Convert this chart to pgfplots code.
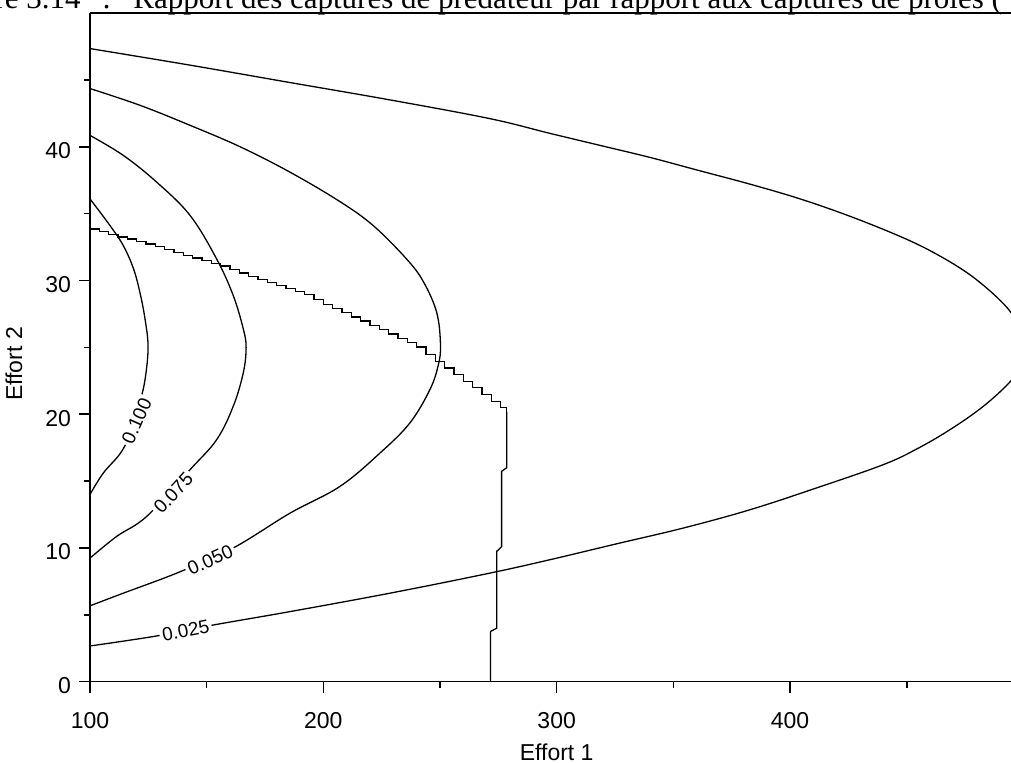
\documentclass[border=0pt]{standalone}
\usepackage{fontspec}
\setmainfont{Liberation Sans}
\newfontfamily\timesfont{Liberation Serif}
\usepackage{pgfplots}
\pgfplotsset{compat=1.18}

\begin{document}
\begin{tikzpicture}
\begin{axis}[
    scale only axis,
    width=460.5pt, height=334.35pt,
    xmin=100, xmax=494.7, ymin=0, ymax=50,
    axis x line*=bottom, axis y line*=left,
    axis line style={-, line width=0.8pt},
    xtick={100,200,300,400}, minor xtick={150,250,350,450},
    ytick={0,10,20,30,40}, minor ytick={5,15,25,35,45},
    tick align=outside, major tick length=5.5pt, minor tick length=3.2pt,
    tick style={line width=0.8pt, black},
    ticklabel style={font=\fontsize{11.5}{13}\selectfont},
    xticklabel style={yshift=-6.5pt},
    yticklabel style={yshift=-2pt, xshift=-0.5pt},
    /pgf/number format/assume math mode=true,
    xlabel={Effort 1},
    xlabel style={font=\fontsize{11.5}{13}\selectfont, at={(axis description cs:0.5067,0)}, anchor=base, yshift=-39.65pt},
    ylabel={Effort 2},
    ylabel style={font=\fontsize{11.5}{13}\selectfont, at={(axis description cs:-0.0738,0.475)}, anchor=base, rotate=0},
]

% contour 0.025
\addplot[smooth, tension=0.6, line width=0.65pt, mark=none] coordinates {
 (100,47.34) (142.9,46.1) (185.7,44.8) (228.6,43.5) (271.4,42.1) (297.1,41.0)
 (318.6,40.1) (340,39.2) (361.4,38.2) (382.9,37.2) (404.3,36.1) (425.7,34.8)
 (447.1,33.3) (461.4,32.1) (475.7,30.6) (487.1,29.0) (494.7,27.6) (498.5,26.3)
 (499.6,25) (498.5,23.7) (494.7,22.5) (482.9,20.6) (468.6,18.85) (454.3,17.4)
 (440,16.23) (411.4,14.49) (382.9,12.86) (354.3,11.49) (325.7,10.31) (297.1,9.12)
 (271.4,8.12) (228.6,6.62) (185.7,5.24) (152.9,4.24) (128.6,3.42) (100,2.67)
};
% contour 0.050
\addplot[smooth, tension=0.6, line width=0.65pt, mark=none] coordinates {
 (100,44.35) (121.4,43.1) (142.9,41.6) (164.3,40.0) (185.7,38.1) (207.1,35.9)
 (221.4,34.1) (235.7,31.6) (242.9,29.9) (248.6,27.6) (250.2,25.2) (249.3,23.7)
 (245.7,21.85) (237.1,19.35) (224.3,17.1) (207.1,14.6) (185.7,12.6) (161.4,10.0)
 (137.9,8.17) (114.3,6.62) (100,5.67)
};
% contour 0.075
\addplot[smooth, tension=0.6, line width=0.65pt, mark=none] coordinates {
 (100,40.85) (114.3,39.35) (128.6,37.35) (142.9,34.86) (154.3,31.6) (161.4,28.87)
 (165.7,26.37) (166.9,25.0) (165.7,23.1) (161.4,20.6) (154.3,18.1) (142.9,15.86)
 (124.3,12.36) (111.4,10.86) (100,9.24)
};
% contour 0.100
\addplot[smooth, tension=0.6, line width=0.65pt, mark=none] coordinates {
 (100,36.1) (108.6,34.1) (114.3,32.6) (118.6,30.9) (121.4,29.1) (123.6,27.1)
 (124.9,25.0) (123.6,22.6) (121.4,20.9) (118.6,19.1) (113.5,17.2) (105.7,15.6)
 (100,14.0)
};

% frontier (step line)
\addplot[const plot, line width=0.65pt, mark=none] coordinates {
 (100,33.86) (104,33.65) (108,33.43) (112,33.26) (116,33.09) (120,32.92)
 (124,32.73) (128,32.52) (132,32.30) (136,32.09) (140,31.88) (144,31.68)
 (148,31.48) (152,31.28) (156,31.08) (160,30.83) (164,30.57) (168,30.31)
 (172,30.07) (176,29.85) (180,29.62) (184,29.40) (188,29.18) (192,28.95)
 (196,28.60) (200,28.20) (204,27.90) (208,27.60) (212,27.28) (216,26.96)
 (220,26.64) (224,26.32) (228,26.00) (232,25.68) (236,25.36) (240,25.03)
 (244,24.47) (248,23.93) (252,23.45) (256,22.96) (260,22.46) (264,21.98)
 (268,21.46) (272,20.95) (276,20.50) (278.6,20.20)
};
\addplot[line width=0.65pt, mark=none] coordinates {
 (278.6,20.20) (278.6,16.0) (276.4,15.73) (276.4,10.1) (274.3,9.74)
 (274.3,4.0) (271.6,3.75) (271.6,0)
};

% contour labels
\begin{scope}[every node/.style={fill=white, inner sep=1.3pt, font=\fontsize{9.5}{10}\selectfont}]
\node[rotate=11] at (axis cs:141,3.8) {0.025};
\node[rotate=24] at (axis cs:151.5,9.1) {0.050};
\node[rotate=47] at (axis cs:135.7,14.1) {0.075};
\node[rotate=66] at (axis cs:120,19.5) {0.100};
\end{scope}

\draw[line width=0.8pt] (rel axis cs:0,1) -- (rel axis cs:1,1);
\coordinate (O) at (rel axis cs:0,0);
\end{axis}

\node[anchor=base west, inner sep=0, font=\timesfont\fontsize{15.5}{18}\selectfont]
  at ([shift={(21.5pt,336.35pt)}]O) {Rapport des captures de prédateur par rapport aux captures de proies (};
\node[anchor=base west, inner sep=0, font=\timesfont\fontsize{15.5}{18}\selectfont]
  at ([shift={(6pt,336.35pt)}]O) {:};
\node[anchor=base east, inner sep=0, font=\timesfont\fontsize{15.5}{18}\selectfont]
  at ([shift={(-4.5pt,336.35pt)}]O) {Figure 3.14};

\pgfresetboundingbox
\useasboundingbox ([shift={(-45pt,-40.65pt)}]O) rectangle ++(505.5pt,381.5pt);
\end{tikzpicture}
\end{document}
